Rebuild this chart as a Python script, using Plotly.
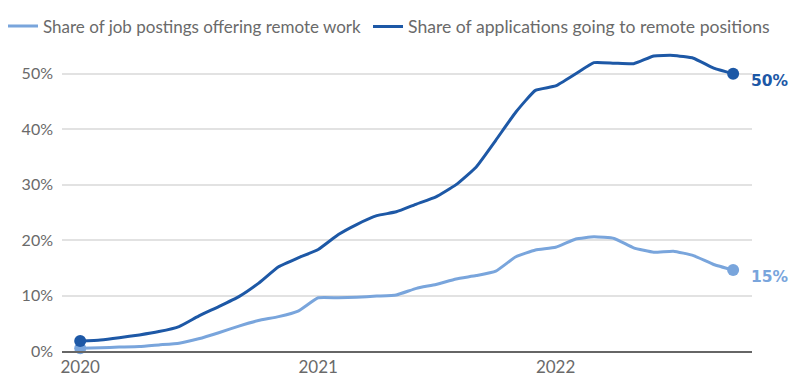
import plotly.graph_objects as go
import pandas as pd

months = pd.date_range("2020-01-01", "2022-10-01", freq="MS")

job_postings_remote = [0.5, 0.6, 0.7, 0.8, 1.1, 1.4, 2.2, 3.3, 4.5, 5.5, 6.2, 7.2,
                       9.6, 9.6, 9.7, 9.9, 10.1, 11.3, 12.0, 13.0, 13.6, 14.4, 17.0, 18.2,
                       18.7, 20.2, 20.6, 20.3, 18.6, 17.8, 18.0, 17.2, 15.6, 14.6]
applications_remote = [1.8, 2.0, 2.4, 2.9, 3.5, 4.4, 6.3, 8.0, 9.8, 12.2, 15.2, 16.8,
                       18.3, 21.0, 22.8, 24.4, 25.1, 26.5, 27.8, 30.0, 33.2, 38.0, 43.1, 47.0,
                       47.8, 50.0, 52.0, 51.9, 51.8, 53.2, 53.3, 52.8, 51.0, 50.0]

series_names = ["Share of job postings offering remote work",
                "Share of applications going to remote positions"]
end_labels = ["15%", "50%"]
y_tick_vals = [0, 10, 20, 30, 40, 50]
y_tick_text = ["0%", "10%", "20%", "30%", "40%", "50%"]
x_tick_vals = ["2020-01-01", "2021-01-01", "2022-01-01"]
x_tick_text = ["2020", "2021", "2022"]

LIGHT = "#79a5dc"
DARK = "#1d58a6"
FONT = "Lato, 'Open Sans', sans-serif"

fig = go.Figure()
for name, vals, col, lg in [(series_names[0], job_postings_remote, LIGHT, "legend"),
                            (series_names[1], applications_remote, DARK, "legend2")]:
    fig.add_trace(go.Scatter(
        x=months, y=vals, mode="lines", name=name, legend=lg,
        line=dict(color=col, width=3, shape="spline", smoothing=0.4),
        cliponaxis=False,
    ))
    fig.add_trace(go.Scatter(
        x=[months[0], months[-1]], y=[vals[0], vals[-1]], mode="markers",
        marker=dict(color=col, size=12), showlegend=False, cliponaxis=False,
        hoverinfo="skip",
    ))

for vals, col, lab in [(job_postings_remote, LIGHT, end_labels[0]),
                       (applications_remote, DARK, end_labels[1])]:
    fig.add_annotation(x=months[-1], y=vals[-1], text=f"<b>{lab}</b>",
                       xref="x", yref="y", xanchor="left", yanchor="middle",
                       xshift=16, yshift=-7, showarrow=False,
                       font=dict(family="DejaVu Sans", size=15.5, color=col))

legend_common = dict(orientation="h", yanchor="middle", y=1.064, xanchor="left",
                     itemwidth=30, bgcolor="rgba(0,0,0,0)")

fig.update_layout(
    width=800, height=387,
    margin=dict(l=54, r=56, t=38, b=44, autoexpand=False),
    paper_bgcolor="white", plot_bgcolor="white",
    font=dict(family=FONT, size=16, color="#6a6a6a"),
    legend=dict(x=-0.0855, font=dict(family=FONT, size=17, color="#6a6a6a"),
                **legend_common),
    legend2=dict(x=0.4435, font=dict(family=FONT, size=17.6, color="#6a6a6a"),
                 **legend_common),
    showlegend=True,
)
fig.update_xaxes(
    range=["2019-12-04", "2022-10-30"],
    tickvals=x_tick_vals, ticktext=x_tick_text,
    showgrid=False, showline=True, linecolor="#666666", linewidth=1.5,
    ticks="", tickfont=dict(size=17, color="#6a6a6a"),
)
fig.update_yaxes(
    range=[0, 55], tickvals=y_tick_vals, ticktext=y_tick_text,
    showgrid=True, gridcolor="#e2e2e2", gridwidth=1.5, zeroline=False,
    ticks="", ticklabelstandoff=8, tickfont=dict(size=16, color="#6a6a6a"),
)

fig.write_html("out.html")
